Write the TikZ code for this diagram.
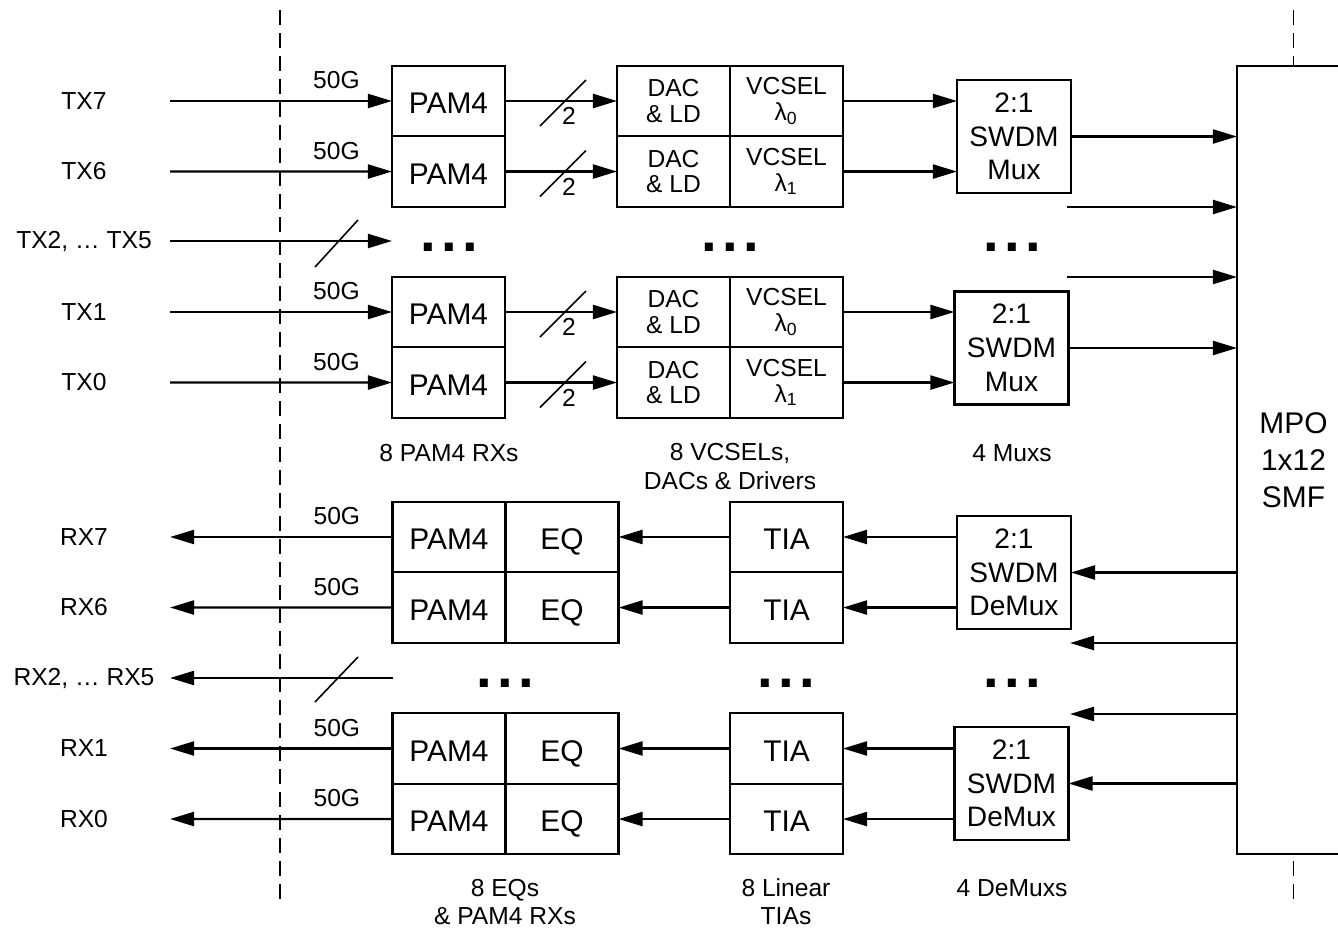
\documentclass[tikz,border=0pt]{standalone}
\usepackage{fontspec}
\setmainfont{Liberation Sans}
\usetikzlibrary{arrows.meta,positioning}

\begin{document}
\begin{tikzpicture}[x=0.01cm,y=-0.01cm,line width=0.65pt,
		cell/.style={draw,minimum width=1.13cm,minimum height=0.705cm,inner sep=0pt,outer sep=0pt,
			text height=0.72em,text depth=0pt,font=\fontsize{8.5}{9}\selectfont},
		smallcell/.style={draw,minimum width=1.13cm,minimum height=0.705cm,inner sep=0pt,outer sep=0pt,
			align=center,font=\fontsize{7}{7.3}\selectfont},
		swdm/.style={draw,minimum width=1.14cm,minimum height=1.13cm,inner sep=0pt,outer sep=0pt,
			align=center,font=\fontsize{8}{9.6}\selectfont},
		port/.style={minimum width=1.72cm,inner sep=0pt,outer sep=0pt,font=\fontsize{7}{8}\selectfont},
		rate/.style={yshift=0.205cm,inner sep=0pt,font=\fontsize{7}{8}\selectfont},
		lanes/.style={inner sep=0pt,font=\fontsize{7}{8}\selectfont},
		caption/.style={align=center,inner sep=0pt,font=\fontsize{7}{8}\selectfont},
		ellipsis/.style={inner sep=0pt,font=\fontsize{16}{16}\selectfont\bfseries},
		sig/.style={-{Triangle[length=0.24cm,width=0.14cm]}},
		bus/.style={line width=0.45pt},
		boundary/.style={line width=0.5pt,dash pattern=on 0.15cm off 0.08cm}]
	
	\useasboundingbox (0,0) rectangle (1338,930);
	\clip (0,0) rectangle (1338,930);
	
	% ---------- boundaries ----------
	\draw[boundary] (280,10) -- (280,902);
	\draw[boundary] (1293.5,10) -- (1293.5,902);
	
	% ---------- fibre connector ----------
	\node[draw,fill=white,minimum width=1.13cm,minimum height=7.875cm,inner sep=0pt,outer sep=0pt,
		align=center,font=\fontsize{8.5}{10.5}\selectfont] (mpo) at (1293.5,460.25) {MPO\\1x12\\SMF};
	
	% ---------- TX: lanes 7 and 6 ----------
	\node[cell] (tpam7) at (448.5,101) {PAM4};
	\node[cell,below=0pt of tpam7] (tpam6) {PAM4};
	\node[smallcell] (dac7) at (673.5,101) {DAC\\\& LD};
	\node[smallcell,right=0pt of dac7] (vcsel7) {VCSEL\\λ\textsubscript{0}};
	\node[smallcell,below=0pt of dac7] (dac6) {DAC\\\& LD};
	\node[smallcell,right=0pt of dac6] (vcsel6) {VCSEL\\λ\textsubscript{1}};
	\node[swdm] (mux3) at (1014,136.5) {2:1\\SWDM\\Mux};
	
	\node[port] (tx7) at (84,101) {TX7};
	\node[port] (tx6) at (84,171.5) {TX6};
	\draw[sig] (tx7) -- node[rate,pos=0.75] {50G} (tpam7);
	\draw[sig] (tx6) -- node[rate,pos=0.75] {50G} (tpam6);
	
	\draw[sig] (tpam7) -- (dac7);
	\draw[bus] (540,126) -- (586,80);
	\node[lanes] (n7) at (569,116) {2};
	\draw[sig] (tpam6) -- (dac6);
	\draw[bus] (540,196.5) -- (586,150.5);
	\node[lanes] (n6) at (569,186.5) {2};
	
	\draw[sig] (vcsel7.east) -- (vcsel7.east -| mux3.west);
	\draw[sig] (vcsel6.east) -- (vcsel6.east -| mux3.west);
	\draw[sig] (mux3.east) -- (mux3.east -| mpo.west);
	
	% ---------- TX: lanes 2 to 5 ----------
	\node[port] (tx25) at (84,241) {TX2, … TX5};
	\coordinate (tpam25) at (392,241);
	\draw[sig] (tx25) -- (tpam25);
	\draw[bus] (315,267) -- (358,220);
	
	\node[ellipsis] (tdots1) at (449,247) {.\hspace{1.5pt}.\hspace{1.5pt}.};
	\node[ellipsis] (tdots2) at (730,247) {.\hspace{1.5pt}.\hspace{1.5pt}.};
	\node[ellipsis] (tdots3) at (1012,247) {.\hspace{1.5pt}.\hspace{1.5pt}.};
	
	\coordinate (mo2) at (1067,207);
	\coordinate (mo1) at (1067,277);
	\draw[sig] (mo2) -- (mo2 -| mpo.west);
	\draw[sig] (mo1) -- (mo1 -| mpo.west);
	
	% ---------- TX: lanes 1 and 0 ----------
	\node[cell] (tpam1) at (448.5,312) {PAM4};
	\node[cell,below=0pt of tpam1] (tpam0) {PAM4};
	\node[smallcell] (dac1) at (673.5,312) {DAC\\\& LD};
	\node[smallcell,right=0pt of dac1] (vcsel1) {VCSEL\\λ\textsubscript{0}};
	\node[smallcell,below=0pt of dac1] (dac0) {DAC\\\& LD};
	\node[smallcell,right=0pt of dac0] (vcsel0) {VCSEL\\λ\textsubscript{1}};
	\node[swdm] (mux0) at (1011.5,348) {2:1\\SWDM\\Mux};
	
	\node[port] (tx1) at (84,312) {TX1};
	\node[port] (tx0) at (84,382.5) {TX0};
	\draw[sig] (tx1) -- node[rate,pos=0.75] {50G} (tpam1);
	\draw[sig] (tx0) -- node[rate,pos=0.75] {50G} (tpam0);
	
	\draw[sig] (tpam1) -- (dac1);
	\draw[bus] (540,337) -- (586,291);
	\node[lanes] (n1) at (569,327) {2};
	\draw[sig] (tpam0) -- (dac0);
	\draw[bus] (540,407.5) -- (586,361.5);
	\node[lanes] (n0) at (569,397.5) {2};
	
	\draw[sig] (vcsel1.east) -- (vcsel1.east -| mux0.west);
	\draw[sig] (vcsel0.east) -- (vcsel0.east -| mux0.west);
	\draw[sig] (mux0.east) -- (mux0.east -| mpo.west);
	
	\node[caption] (tcap1) at (449,453) {8 PAM4 RXs};
	\node[caption] (tcap2) at (730,466.5) {8 VCSELs,\\DACs \& Drivers};
	\node[caption] (tcap3) at (1012,453) {4 Muxs};
	
	% ---------- RX: lanes 7 and 6 ----------
	\node[cell] (rpam7) at (449,537) {PAM4};
	\node[cell,right=0pt of rpam7] (eq7) {EQ};
	\node[cell,below=0pt of rpam7] (rpam6) {PAM4};
	\node[cell,right=0pt of rpam6] (eq6) {EQ};
	\node[cell] (tia7) at (786.5,537) {TIA};
	\node[cell,below=0pt of tia7] (tia6) {TIA};
	\node[swdm] (demux3) at (1014,572.5) {2:1\\SWDM\\DeMux};
	
	\node[port] (rx7) at (84,537) {RX7};
	\node[port] (rx6) at (84,607.5) {RX6};
	\draw[sig] (rpam7) -- node[rate,pos=0.25] {50G} (rx7);
	\draw[sig] (rpam6) -- node[rate,pos=0.25] {50G} (rx6);
	
	\draw[sig] (tia7) -- (eq7);
	\draw[sig] (tia6) -- (eq6);
	\draw[sig] (demux3.west |- tia7) -- (tia7);
	\draw[sig] (demux3.west |- tia6) -- (tia6);
	\draw[sig] (demux3.east -| mpo.west) -- (demux3.east);
	
	% ---------- RX: lanes 2 to 5 ----------
	\node[port] (rx25) at (84,678) {RX2, … RX5};
	\coordinate (rpam25) at (393,678);
	\draw[sig] (rpam25) -- (rx25);
	\draw[bus] (315,702) -- (358,657);
	
	\node[ellipsis] (rdots1) at (505,683) {.\hspace{1.5pt}.\hspace{1.5pt}.};
	\node[ellipsis] (rdots2) at (786,683) {.\hspace{1.5pt}.\hspace{1.5pt}.};
	\node[ellipsis] (rdots3) at (1012,683) {.\hspace{1.5pt}.\hspace{1.5pt}.};
	
	\coordinate (di2) at (1070,643);
	\coordinate (di1) at (1070,714);
	\draw[sig] (di2 -| mpo.west) -- (di2);
	\draw[sig] (di1 -| mpo.west) -- (di1);
	
	% ---------- RX: lanes 1 and 0 ----------
	\node[cell] (rpam1) at (449,748.5) {PAM4};
	\node[cell,right=0pt of rpam1] (eq1) {EQ};
	\node[cell,below=0pt of rpam1] (rpam0) {PAM4};
	\node[cell,right=0pt of rpam0] (eq0) {EQ};
	\node[cell] (tia1) at (786.5,748.5) {TIA};
	\node[cell,below=0pt of tia1] (tia0) {TIA};
	\node[swdm] (demux0) at (1011.5,783.5) {2:1\\SWDM\\DeMux};
	
	\node[port] (rx1) at (84,748.5) {RX1};
	\node[port] (rx0) at (84,819) {RX0};
	\draw[sig] (rpam1) -- node[rate,pos=0.25] {50G} (rx1);
	\draw[sig] (rpam0) -- node[rate,pos=0.25] {50G} (rx0);
	
	\draw[sig] (tia1) -- (eq1);
	\draw[sig] (tia0) -- (eq0);
	\draw[sig] (demux0.west |- tia1) -- (tia1);
	\draw[sig] (demux0.west |- tia0) -- (tia0);
	\draw[sig] (demux0.east -| mpo.west) -- (demux0.east);
	
	\node[caption] (rcap1) at (505,902) {8 EQs\\\& PAM4 RXs};
	\node[caption] (rcap2) at (786,902) {8 Linear\\TIAs};
	\node[caption] (rcap3) at (1012,888) {4 DeMuxs};
	
\end{tikzpicture}
\end{document}
